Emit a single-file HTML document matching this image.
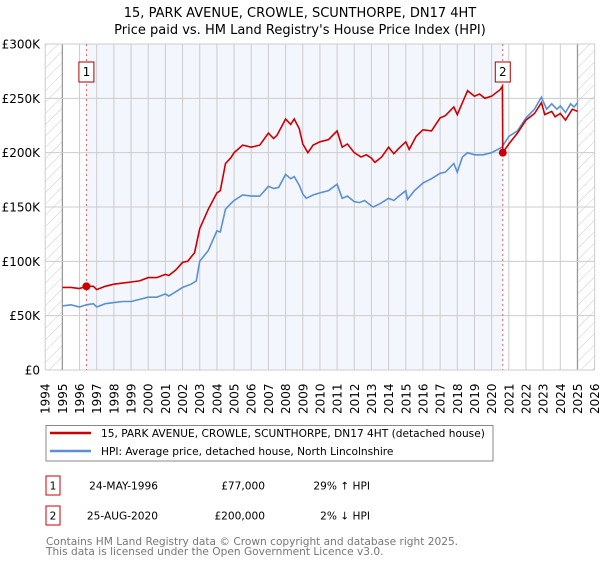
<!DOCTYPE html>
<html><head><meta charset="utf-8"><style>
body{margin:0;background:#fff;width:600px;height:560px;overflow:hidden;font-family:"Liberation Sans","DejaVu Sans",sans-serif}
svg text{font-family:"DejaVu Sans","Liberation Sans",sans-serif}
</style></head><body>
<svg id="c" width="600" height="560">
<defs><pattern id="h" width="8" height="8" patternUnits="userSpaceOnUse" patternTransform="rotate(45)"><line x1="0" y1="0" x2="0" y2="8" stroke="#ccc" stroke-width="1"/></pattern></defs>
<text x="300" y="17" text-anchor="middle" font-size="13">15, PARK AVENUE, CROWLE, SCUNTHORPE, DN17 4HT</text>
<text x="300" y="34" text-anchor="middle" font-size="13">Price paid vs. HM Land Registry's House Price Index (HPI)</text>
<g id="plot"></g>
<rect x="46" y="425.5" width="447" height="35.5" fill="#fff" stroke="#888"/>
<line x1="50" y1="433" x2="91" y2="433" stroke="#cc0000" stroke-width="2.5"/>
<text x="101" y="437" font-size="10.6">15, PARK AVENUE, CROWLE, SCUNTHORPE, DN17 4HT (detached house)</text>
<line x1="50" y1="451" x2="91" y2="451" stroke="#5b8fd4" stroke-width="2.5"/>
<text x="101" y="455" font-size="10.6">HPI: Average price, detached house, North Lincolnshire</text>
<g font-size="10.6">
<rect x="46" y="476" width="14" height="19" fill="#fff" stroke="#cc0000"/>
<text x="53" y="489.5" text-anchor="middle">1</text>
<text x="158" y="489.5" text-anchor="end">24-MAY-1996</text>
<text x="265" y="489.5" text-anchor="end">£77,000</text>
<text x="370" y="489.5" text-anchor="end">29% ↑ HPI</text>
<rect x="46" y="506" width="14" height="19" fill="#fff" stroke="#cc0000"/>
<text x="53" y="519.5" text-anchor="middle">2</text>
<text x="158" y="519.5" text-anchor="end">25-AUG-2020</text>
<text x="265" y="519.5" text-anchor="end">£200,000</text>
<text x="370" y="519.5" text-anchor="end">2% ↓ HPI</text>
</g>
<text x="46" y="545" font-size="10.6" fill="#777">Contains HM Land Registry data © Crown copyright and database right 2025.</text>
<text x="46" y="555" font-size="10.6" fill="#777">This data is licensed under the Open Government Licence v3.0.</text>
</svg>
<script>
const yTicks=[0,50,100,150,200,250,300];
const yTickLabels=["£0","£50K","£100K","£150K","£200K","£250K","£300K"];
const years=[1994,1995,1996,1997,1998,1999,2000,2001,2002,2003,2004,2005,2006,2007,2008,2009,2010,2011,2012,2013,2014,2015,2016,2017,2018,2019,2020,2021,2022,2023,2024,2025,2026];
const hpiT=[1995,1995.5,1996,1996.4,1996.8,1997,1997.5,1998,1998.5,1999,1999.5,2000,2000.5,2001,2001.2,2001.6,2002,2002.5,2002.8,2003,2003.5,2004,2004.2,2004.5,2004.8,2005,2005.5,2006,2006.5,2007,2007.3,2007.6,2008,2008.3,2008.5,2008.8,2009,2009.2,2009.6,2010,2010.5,2011,2011.3,2011.6,2012,2012.3,2012.6,2013,2013.1,2013.5,2014,2014.3,2014.6,2015,2015.1,2015.5,2016,2016.5,2017,2017.3,2017.8,2018,2018.3,2018.6,2019,2019.5,2020,2020.6,2021,2021.5,2022,2022.5,2022.9,2023.2,2023.5,2023.8,2024,2024.3,2024.6,2024.8,2025];
const hpiV=[59,60,58,60,61,58,61,62,63,63,65,67,67,70,68,72,76,79,82,100,110,128,127,148,153,156,161,160,160,169,167,168,180,176,178,170,162,158,161,163,165,171,158,160,155,154,156,151,150,153,158,156,160,165,157,165,172,176,181,182,190,182,196,200,198,198,200,205,215,220,232,240,251,240,245,240,243,237,245,242,246];
const ppT=[1995,1995.5,1996,1996.4,1996.8,1997,1997.5,1998,1998.5,1999,1999.5,2000,2000.5,2001,2001.2,2001.6,2002,2002.3,2002.7,2003,2003.5,2004,2004.2,2004.5,2004.8,2005,2005.5,2006,2006.5,2007,2007.3,2007.5,2008,2008.3,2008.5,2008.8,2009,2009.3,2009.6,2010,2010.5,2011,2011.3,2011.6,2012,2012.4,2012.7,2013,2013.2,2013.6,2014,2014.3,2014.6,2015,2015.2,2015.6,2016,2016.5,2017,2017.3,2017.8,2018,2018.3,2018.6,2019,2019.3,2019.6,2020,2020.5,2020.63,2020.65,2021,2021.5,2022,2022.5,2022.9,2023.1,2023.5,2023.7,2024,2024.3,2024.7,2025];
const ppV=[76,76,75,77,77,74,77,79,80,81,82,85,85,88,87,92,99,100,108,130,148,163,165,190,195,200,207,205,207,218,213,216,231,226,231,222,208,200,207,210,212,220,205,208,200,196,198,195,191,196,205,199,204,210,203,215,221,220,232,234,242,235,246,257,252,254,250,252,258,261,200,208,218,230,236,246,235,238,233,236,230,240,238];
const sales=[{t:1996.4,v:77,n:"1"},{t:2020.65,v:200,n:"2"}];
const X=t=>45.2+(t-1994)*17.17, Y=v=>370-v*1.0867;
const NS="http://www.w3.org/2000/svg", g=document.getElementById('plot');
function mk(tag,a,p){const e=document.createElementNS(NS,tag);for(const k in a)e.setAttribute(k,a[k]);(p||g).appendChild(e);return e;}
let e;
e=mk('rect',{x:X(sales[0].t),y:Y(300),width:X(sales[1].t)-X(sales[0].t),height:Y(0)-Y(300),fill:'#f3f6fd'});


e=mk('rect',{x:X(1994),y:Y(300),width:X(1995)-X(1994),height:Y(0)-Y(300),fill:'url(#h)'});


e=mk('rect',{x:X(2025),y:Y(300),width:X(2026)-X(2025),height:Y(0)-Y(300),fill:'url(#h)'});


years.forEach(y=>{e=mk('line',{x1:X(y),x2:X(y),y1:Y(300),y2:Y(0),stroke:(y==1995||y==2025)?'#999':'#ccc','stroke-width':(y==1995||y==2025)?1.3:1});


e=mk('text',{x:0,y:0,transform:`translate(${X(y)+4.5},414) rotate(-90)`,'font-size':12});e.textContent=y;

});
yTicks.forEach((v,i)=>{e=mk('line',{x1:X(1994),x2:X(2026),y1:Y(v),y2:Y(v),stroke:'#ccc'});


e=mk('text',{x:40,y:Y(v)+4.5,'text-anchor':'end','font-size':12});e.textContent=yTickLabels[i];

});
sales.forEach(s=>{e=mk('line',{x1:X(s.t),x2:X(s.t),y1:Y(300),y2:Y(0),stroke:'#e06060','stroke-dasharray':'2,3'});

});
const path=(T,V)=>T.map((t,i)=>(i?'L':'M')+X(t).toFixed(1)+','+Y(V[i]).toFixed(1)).join('');
e=mk('path',{d:path(hpiT,hpiV),fill:'none',stroke:'#5b8fd4','stroke-width':1.6});


e=mk('path',{d:path(ppT,ppV),fill:'none',stroke:'#cc0000','stroke-width':1.6});


sales.forEach(s=>{e=mk('circle',{cx:X(s.t),cy:Y(s.v),r:4,fill:'#cc0000'});


e=mk('rect',{x:X(s.t)-7.5,y:62,width:15,height:20,fill:'#fff',stroke:'#aa0000'});


e=mk('text',{x:X(s.t),y:76,'text-anchor':'middle','font-size':12});e.textContent=s.n;

});
</script>
</body></html>
